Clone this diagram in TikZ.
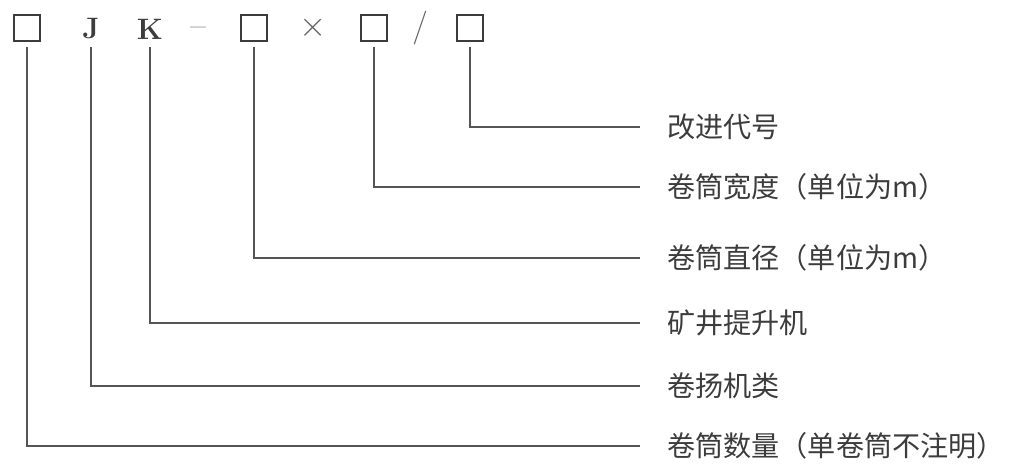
\documentclass[tikz,border=0pt]{standalone}
\usepackage{fontspec}
\newfontfamily\cjk{Noto Sans CJK SC}
\usetikzlibrary{positioning,calc}
\definecolor{ink}{HTML}{3C3C3C}
\definecolor{rule}{HTML}{555555}
\begin{document}
\begin{tikzpicture}[
  x=0.025cm, y=-0.025cm,
  sym/.style={inner sep=0pt, minimum width=0.65cm, minimum height=0.65cm, text=ink,
    font=\fontsize{21}{23}\selectfont\bfseries},
  slot/.style={sym, draw=ink, line width=1pt, minimum size=0.65cm},
  sign/.style={sym, text=ink!80, font=\fontsize{24}{26}\selectfont},
  label/.style={anchor=west, inner sep=0pt, text=ink,
    font=\cjk\fontsize{20}{22}\selectfont},
  to/.style={draw=rule, line width=0.9pt, shorten <=0.12cm, shorten >=0.68cm}]

  \useasboundingbox (0,0) rectangle (1012,468);

  % Kurzzeichen oben
  \node[slot] (count) at (27,28) {};
  \node[sym] (j) at (91,29) {J};
  \node[sym] (k) at (150,29) {K};
  \node[sign] (dash) at (198,32) {--};
  \node[slot] (diam) at (254,28) {};
  \node[sign] (times) at (313,28) {$\times$};
  \node[slot] (width) at (374,28) {};
  \node[sign] (slash) at (420,28) {/};
  \node[slot] (rev) at (470,28) {};

  % Erklaerungen rechts
  \node[label] (lrev) at (667,127) {改进代号};
  \node[label] (lwidth) at (667,187) {卷筒宽度（单位为m）};
  \node[label] (ldiam) at (667,258) {卷筒直径（单位为m）};
  \node[label] (lk) at (667,323) {矿井提升机};
  \node[label] (lj) at (667,386) {卷扬机类};
  \node[label] (lcount) at (667,446) {卷筒数量（单卷筒不注明）};

  \draw[to] (rev.south) |- (lrev.west);
  \draw[to] (width.south) |- (lwidth.west);
  \draw[to] (diam.south) |- (ldiam.west);
  \draw[to] (k.south) |- (lk.west);
  \draw[to] (j.south) |- (lj.west);
  \draw[to] (count.south) |- (lcount.west);

\end{tikzpicture}
\end{document}
